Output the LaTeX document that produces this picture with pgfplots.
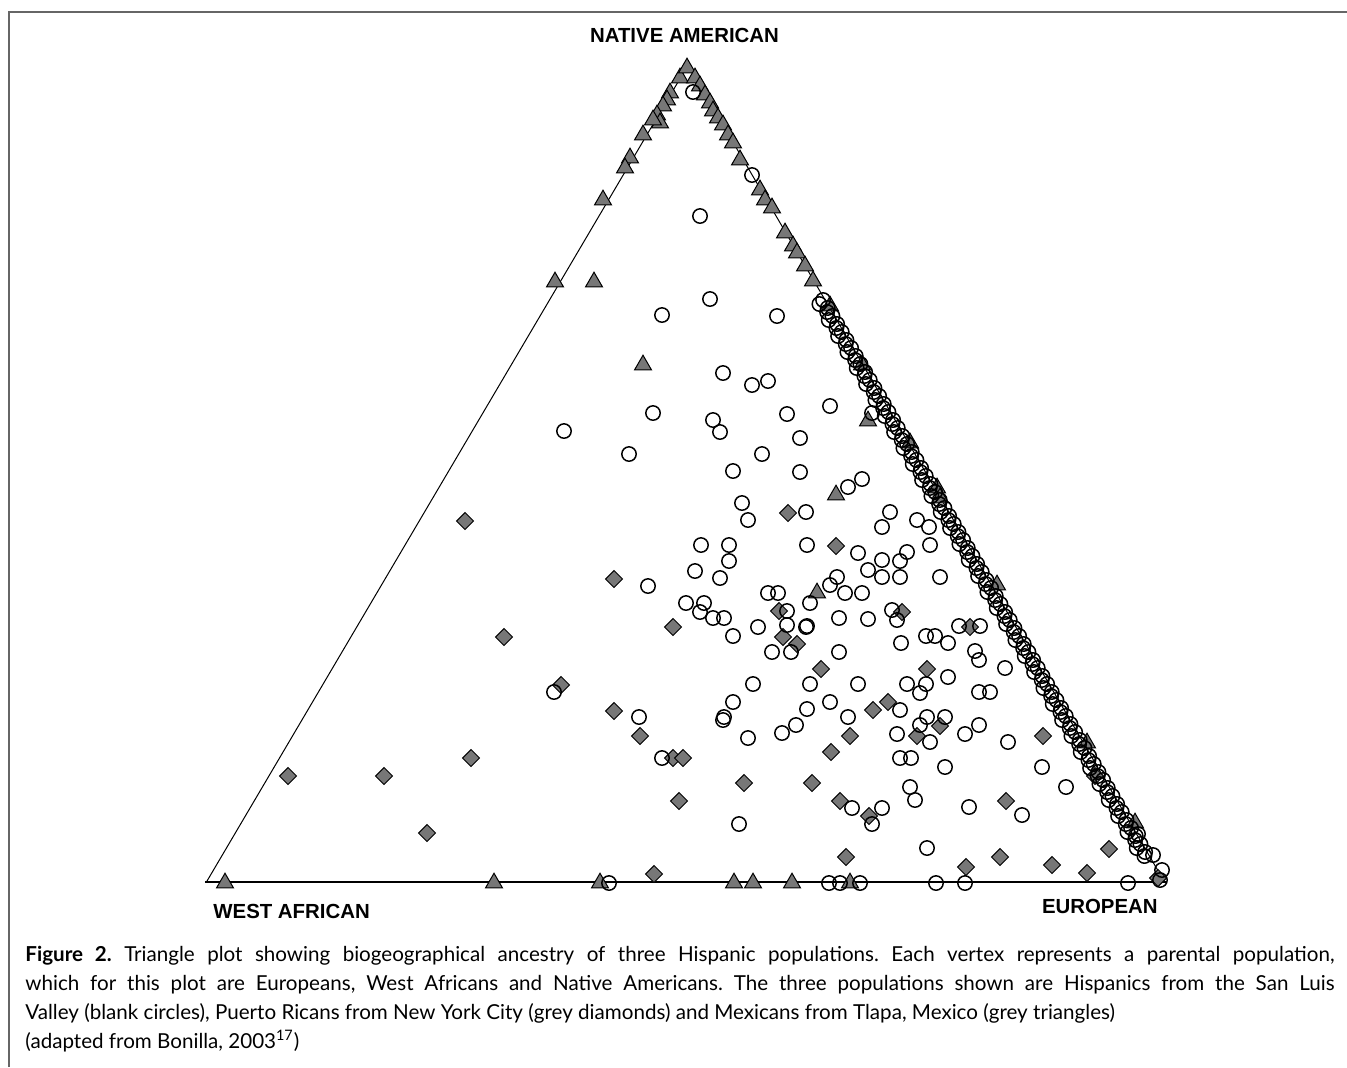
\documentclass[border=0pt]{standalone}
\usepackage{fontspec}
\setmainfont{Lato}
\newfontfamily\lblfont{Liberation Sans}
\usepackage{pgfplots}
\pgfplotsset{compat=1.18}
\definecolor{mgrey}{HTML}{777777}
\definecolor{framegrey}{HTML}{666666}
\frenchspacing
\begin{document}
\begin{tikzpicture}
\useasboundingbox (0,0) rectangle (673.5pt,-533.5pt);
\begin{axis}[at={(0pt,0pt)}, anchor=north west, scale only axis,
  width=673.5pt, height=441.5pt, xmin=0, xmax=1347, ymin=0, ymax=883,
  y dir=reverse, hide axis, clip=true]
% triangle frame
\addplot[black, line width=0.5pt, mark=none] coordinates {(207,881) (688,65) (1164,881)};
\addplot[black, line width=1.1pt, mark=none] coordinates {(205,882) (1167,882)};
% Puerto Ricans (grey diamonds)
\addplot[only marks, mark=square*, mark size=3pt,
  mark options={rotate=45, fill=mgrey, draw=black, line width=0.5pt}] coordinates {
(465,521) (504,637) (614,579) (561,685) (614,711) (640,736) (288,776) (384,776)
(471,758) (427,833) (673,627) (673,758) (683,758) (679,801) (744,783) (788,513)
(836,546) (779,611) (783,637) (797,644) (821,669) (831,752) (812,783) (840,801)
(869,816) (846,857) (850,736) (902,612) (873,710) (888,702) (927,669) (940,726)
(917,736) (970,627) (1043,736) (1006,801) (1095,776) (1109,849) (1000,857)
(966,867) (1052,865) (1087,873) (1158,878) (654,874)
};
% Mexicans (grey triangles)
\addplot[only marks, mark=triangle*, mark size=4.9pt,
  mark options={fill=mgrey, draw=black, line width=0.5pt}] coordinates {
(680,78) (687,68) (695,78) (670,93) (667,100) (663,106) (657,115) (660,123)
(653,120) (643,135) (630,158) (625,168) (603,200) (555,282) (594,282)
(700,86) (705,95) (710,103) (713,111) (718,118) (723,125) (728,135) (733,143)
(740,160) (760,190) (765,200) (772,208) (785,233) (793,246) (797,253) (805,266)
(813,281) (830,306)
(862,365) (910,443) (937,488) (940,498) (997,585) (1087,743) (1135,823)
(643,365) (868,421) (836,495) (817,593)
(225,883) (494,883) (600,883) (734,883) (753,883) (792,883) (850,883)
};
% San Luis Valley (blank circles)
\addplot[only marks, mark=o, mark size=3.6pt,
  mark options={draw=black, line width=0.75pt}] coordinates {
(693,92) (752,175) (700,216) (710,299) (662,315) (777,316)
(723,373) (752,385) (768,381) (830,406) (787,414) (653,413) (713,420) (720,432)
(564,431) (800,438) (762,454) (629,454) (733,471) (800,472) (872,413)
(848,487) (862,479) (806,512) (742,503) (748,520) (890,512) (882,527) (917,520)
(929,527) (930,545) (701,545) (729,545) (729,561) (807,545) (858,553) (882,560)
(900,561) (907,552) (695,571) (720,578) (648,586) (868,570) (882,577) (900,577)
(940,577) (837,577) (830,585) (768,593) (778,593) (845,593) (862,593) (810,603)
(686,603) (704,603) (700,612) (713,618) (724,618) (733,636) (787,611) (787,625)
(807,626) (758,627) (806,627) (839,618) (868,619) (892,610) (897,620) (772,652)
(791,652) (839,652) (959,626) (980,626) (926,636) (935,636) (948,643) (901,643)
(975,651) (979,660) (1005,668) (810,684) (753,684) (858,684) (907,684) (926,684)
(920,693) (948,677) (979,692) (990,692) (830,702) (733,702) (724,717) (807,709)
(796,725) (782,733) (748,738) (848,717) (900,710) (897,734) (927,717) (945,717)
(920,725) (930,742) (965,734) (979,725) (1008,742) (900,758) (911,758) (945,767)
(1042,767) (910,787) (1066,787) (554,692) (639,717) (662,758) (739,824) (852,808)
(882,808) (872,824) (723,720) (915,800) (969,807) (1022,815) (927,848)
(1153,855) (1162,870) (1138,834)
(609,883) (829,883) (840,883) (860,883) (936,883) (965,883) (1128,883) (1160,880)
% right edge band
(823.1,300) (827.7,308) (832.4,316) (837.1,324) (841.7,332) (846.4,340) (851.1,348)
(855.7,356) (860.4,364) (865.1,372) (869.7,380) (874.4,388) (879.1,396) (883.7,404)
(888.4,412) (893.1,420) (897.7,428) (902.4,436) (907.1,444) (911.7,452) (916.4,460)
(921.1,468) (925.7,476) (930.4,484) (935.1,492) (939.7,500) (944.4,508) (949.1,516)
(953.7,524) (958.4,532) (963.1,540) (967.7,548) (972.4,556) (977.1,564) (981.7,572)
(986.4,580) (991.1,588) (995.7,596) (1000.4,604) (1005.1,612) (1009.7,620)
(1014.4,628) (1019.1,636) (1023.7,644) (1028.4,652) (1033.1,660) (1037.7,668)
(1042.4,676) (1047.1,684) (1051.7,692) (1056.4,700) (1061.1,708) (1065.7,716)
(1070.4,724) (1075.1,732) (1079.7,740) (1084.4,748) (1089.1,756) (1093.7,764)
(1098.4,772) (1103.1,780) (1107.7,788) (1112.4,796) (1117.1,804) (1121.7,812)
(1126.4,820) (1131.1,828) (1135.7,836) (1140.4,844) (1145.1,852)
(819.4,304) (828.7,320) (838.1,336) (847.4,352) (856.7,368) (866.1,384) (875.4,400)
(884.7,416) (894.1,432) (903.4,448) (912.7,464) (922.1,480) (931.4,496) (940.7,512)
(950.1,528) (959.4,544) (968.7,560) (978.1,576) (987.4,592) (996.7,608) (1006.1,624)
(1015.4,640) (1024.7,656) (1034.1,672) (1043.4,688) (1052.7,704) (1062.1,720)
(1071.4,736) (1080.7,752) (1090.1,768) (1099.4,784) (1108.7,800) (1118.1,816)
(1127.4,832) (1136.7,848)
(827.1,312) (836.4,328) (845.7,344) (855.1,360) (864.4,376) (873.7,392) (883.1,408)
(892.4,424) (901.7,440) (911.1,456) (920.4,472) (929.7,488) (939.1,504) (948.4,520)
(957.7,536) (967.1,552) (976.4,568) (985.7,584) (995.1,600) (1004.4,616) (1013.7,632)
(1023.1,648) (1032.4,664) (1041.7,680) (1051.1,696) (1060.4,712) (1069.7,728)
(1079.1,744) (1088.4,760) (1097.7,776) (1107.1,792) (1116.4,808) (1125.7,824)
(1135.1,840) (1144.4,856)
};
\end{axis}
\begin{scope}[x=0.5pt, y=-0.5pt]
\draw[framegrey, line width=1pt] (8.7,1067) -- (8.7,12) -- (1347,12);
\tikzset{lbl/.style={inner sep=0pt, font=\lblfont\bfseries\fontsize{10.2}{12}\selectfont}}
\node[lbl, anchor=base] at (684.5,42) {NATIVE AMERICAN};
\node[lbl, anchor=base west] at (213,918) {WEST AFRICAN};
\node[lbl, anchor=base east] at (1158,913) {EUROPEAN};
\tikzset{capt/.style={inner sep=0pt, anchor=base west, font=\fontsize{10.3}{12}\selectfont}}
\node[capt] at (25,961) {\makebox[654.5pt][s]{\textbf{Figure 2.} Triangle plot showing biogeographical ancestry of three Hispanic populations. Each vertex represents a parental population,}};
\node[capt] at (25,990) {\makebox[654.5pt][s]{which for this plot are Europeans, West Africans and Native Americans. The three populations shown are Hispanics from the San Luis}};
\node[capt] at (25,1019) {Valley (blank circles), Puerto Ricans from New York City (grey diamonds) and Mexicans from Tlapa, Mexico (grey triangles)};
\node[capt] at (25,1048) {(adapted from Bonilla, 2003\textsuperscript{17})};
\end{scope}
\end{tikzpicture}
\end{document}
